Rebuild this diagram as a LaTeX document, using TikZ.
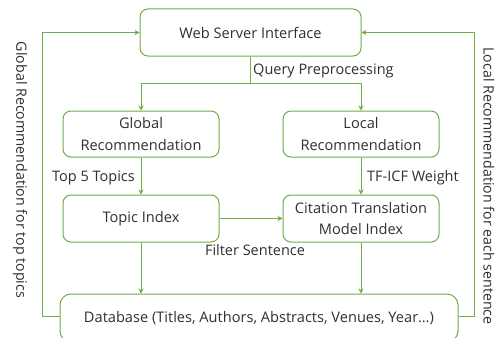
\documentclass[tikz,border=0pt]{standalone}
\usepackage{fontspec}
\setmainfont{Open Sans}
\usetikzlibrary{arrows.meta,calc}
\definecolor{grn}{HTML}{70AD47}
\definecolor{txt}{HTML}{303030}
\begin{document}
\begin{tikzpicture}[x=1pt,y=-1pt,
  box/.style={draw=grn,line width=1pt,rounded corners=8pt,fill=white,text=txt,align=center,inner sep=0pt,font=\fontsize{14.6}{21.5}\selectfont},
  conn/.style={draw=grn,line width=1pt},
  arr/.style={conn,-{Stealth[length=5pt,width=5pt]}},
  lbl/.style={text=txt,inner sep=0pt,font=\fontsize{14.5}{18}\selectfont},
  sidelbl/.style={text=txt,inner sep=0pt,font=\fontsize{14.2}{18}\selectfont,rotate=-90}]
\clip (0,0) rectangle (497,337);
\fill[white] (0,0) rectangle (497,337);
\node[box,minimum width=221pt,minimum height=47pt] (web) at (250.5,32.5) {Web Server Interface};
\node[box,minimum width=156pt,minimum height=46pt] (glob) at (141,134) {Global\\Recommendation};
\node[box,minimum width=156pt,minimum height=46pt] (loc) at (361,134) {Local\\Recommendation};
\node[box,minimum width=156pt,minimum height=47pt] (topic) at (141,218.5) {Topic Index};
\node[box,minimum width=156pt,minimum height=47pt] (cit) at (361,218.5) {Citation Translation\\Model Index};
\node[box,rounded corners=11pt,minimum width=398pt,minimum height=48pt] (db) at (259,318) {Database (Titles, Authors, Abstracts, Venues, Year…)};
\coordinate (qp) at (250.5,83);
\draw[conn] (web.south) -- (qp);
\draw[arr] (qp) -| (glob.north);
\draw[arr] (qp) -| (loc.north);
\node[lbl,anchor=west] (qpl) at (253,71) {Query Preprocessing};
\draw[arr] (glob.south) -- (topic.north);
\node[lbl,anchor=east] (t5) at (135,178) {Top 5 Topics};
\draw[arr] (loc.south) -- (cit.north);
\node[lbl,anchor=west] (tf) at (367,178) {TF-ICF Weight};
\draw[arr] (topic.east) -- (cit.west);
\node[lbl] (fs) at (255,250) {Filter Sentence};
\draw[arr] (topic.south) -- (topic.south |- db.north);
\draw[arr] (cit.south) -- (cit.south |- db.north);
\coordinate (gl) at (42,316);
\coordinate (lr) at (474,316);
\draw[arr] (db.west |- gl) -- (gl) |- (web.west);
\draw[arr] (db.east |- lr) -- (lr) |- (web.east);
\node[sidelbl] (gr) at (20,170) {Global Recommendation for top topics};
\node[sidelbl] (lrl) at (489,186) {Local Recommendation for each sentence};
\end{tikzpicture}
\end{document}
